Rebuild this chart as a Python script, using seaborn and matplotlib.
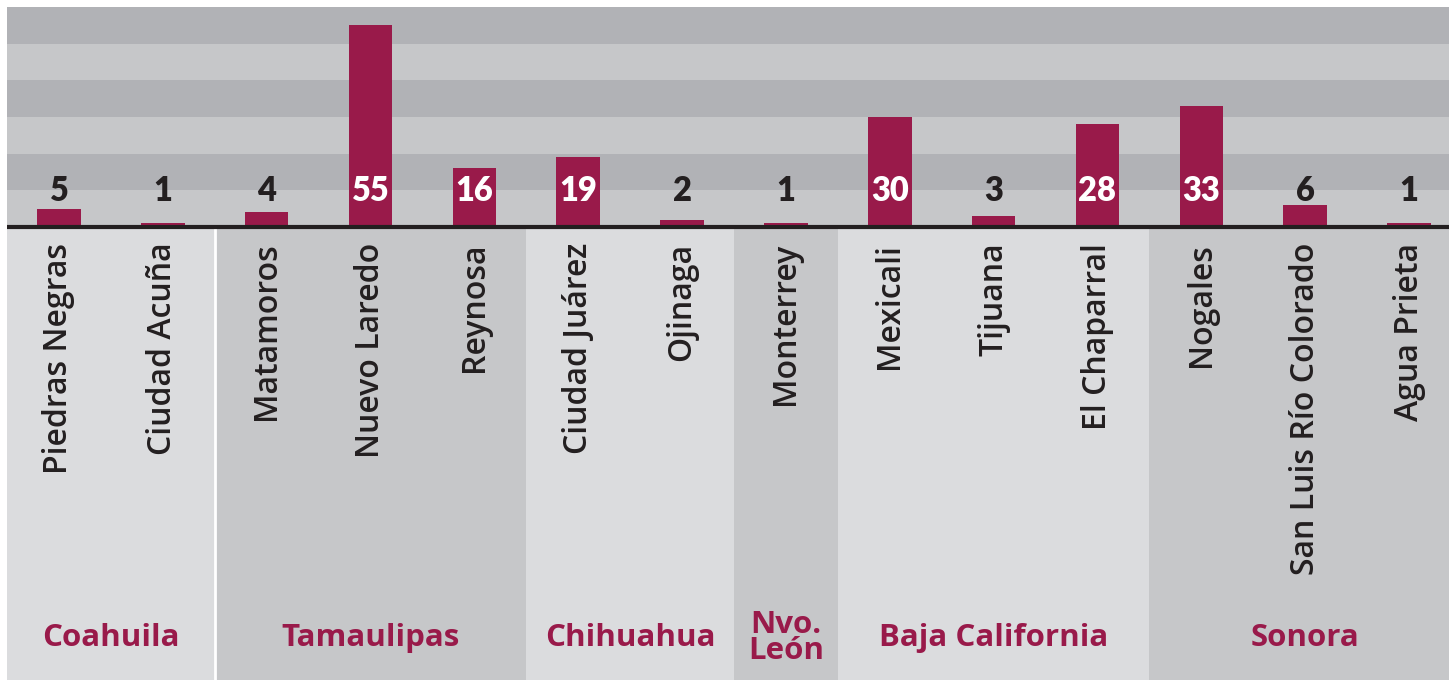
import matplotlib
matplotlib.use("Agg")
import matplotlib.pyplot as plt
import pandas as pd
import seaborn as sns

cities = [
    "Piedras Negras", "Ciudad Acuña", "Matamoros", "Nuevo Laredo", "Reynosa",
    "Ciudad Juárez", "Ojinaga", "Monterrey", "Mexicali", "Tijuana",
    "El Chaparral", "Nogales", "San Luis Río Colorado", "Agua Prieta",
]
counts = [5, 1, 4, 55, 16, 19, 2, 1, 30, 3, 28, 33, 6, 1]
states = ["Coahuila", "Tamaulipas", "Chihuahua", "Nvo.\nLeón", "Baja California", "Sonora"]
state_sizes = [2, 3, 2, 1, 3, 3]

MAROON = "#991a4a"
DARK_TEXT = "#231f20"
STRIPE_DARK = "#b1b2b6"
STRIPE_LIGHT = "#c6c7c9"
PANEL_LIGHT = "#dbdcde"
PANEL_DARK = "#c6c7c9"

sns.set_style("white")
plt.rcParams["font.family"] = ["Lato", "DejaVu Sans"]
label_font = ["Open Sans", "DejaVu Sans"]

df = pd.DataFrame({"city": cities, "count": counts})

fig = plt.figure(figsize=(14.54, 6.8), dpi=100)
ax = fig.add_axes([7 / 1454, 0, 1442 / 1454, 673 / 680])
y_bottom, y_top = -123.6, 60
x_left, x_right = -0.5, 13.385

# horizontal stripes behind the bars (10 units each, dark on top)
for i, lo in enumerate(range(0, 60, 10)):
    ax.axhspan(lo, lo + 10, color=STRIPE_LIGHT if i % 2 == 0 else STRIPE_DARK, lw=0, zorder=0)

# state panels below the axis line
start = -0.5
for i, (state, n) in enumerate(zip(states, state_sizes)):
    end = start + n
    hi = end if i < len(states) - 1 else x_right
    ax.fill_between([start, hi], y_bottom, 0, color=PANEL_LIGHT if i % 2 == 0 else PANEL_DARK, lw=0, zorder=0)
    ax.text((start + end) / 2, -112.2, state, ha="center", va="center", color=MAROON,
            fontsize=22.5, fontweight="bold", linespacing=0.85, family=label_font)
    start = end
ax.vlines(1.5, y_bottom, 0, color="white", lw=2, zorder=1)

sns.barplot(data=df, x="city", y="count", order=cities, color=MAROON, saturation=1,
            width=0.42, linewidth=0, ax=ax, zorder=2)

ax.axhline(0, color=DARK_TEXT, lw=3, zorder=3)

for i, (city, val) in enumerate(zip(cities, counts)):
    ax.text(i, 7.1, str(val), ha="center", va="baseline", fontsize=23.5, fontweight="heavy",
            color="white" if val >= 16 else DARK_TEXT, zorder=4)
    ax.text(i, -4.3, city, ha="center", va="top", rotation=90, fontsize=23, fontweight=600,
            color=DARK_TEXT, family=label_font)

ax.set_xlim(x_left, x_right)
ax.set_ylim(y_bottom, y_top)
ax.set_xticks([])
ax.set_yticks([])
ax.set_xlabel("")
ax.set_ylabel("")
for s in ax.spines.values():
    s.set_visible(False)

fig.savefig("out.png", dpi=100)
